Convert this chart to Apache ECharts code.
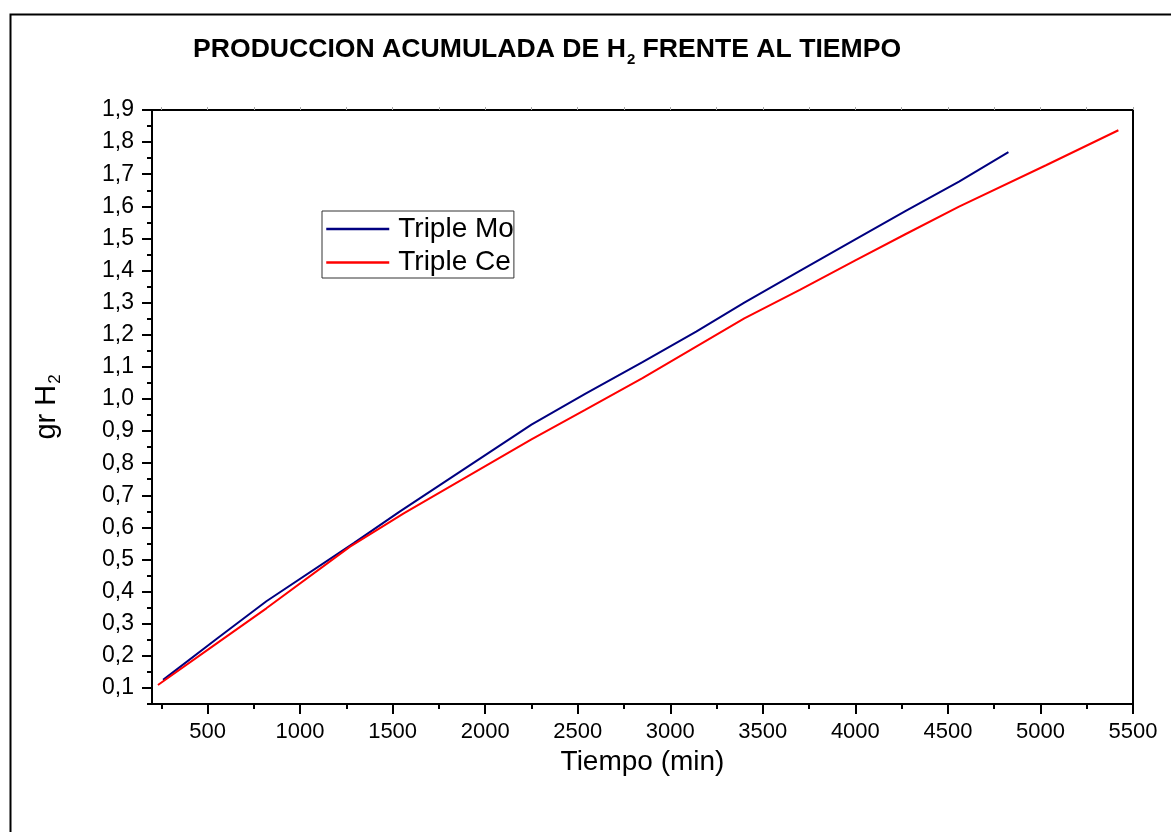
<!DOCTYPE html>
<html>
<head>
<meta charset="utf-8">
<script src="https://cdn.jsdelivr.net/npm/echarts@6/dist/echarts.min.js"></script>
<style>
html,body{margin:0;padding:0;background:#fff;}
#chart{width:1171px;height:832px;}
</style>
</head>
<body>
<div id="chart"></div>
<script>
// ---- data ----
var seriesNames = ['Triple Mo', 'Triple Ce'];
var moTime = [260, 550, 818, 1290, 1540, 2250, 2540, 2850, 3140, 3400, 3700, 4000, 4270, 4560, 4827];
var moH2   = [0.125, 0.253, 0.370, 0.551, 0.650, 0.920, 1.016, 1.115, 1.210, 1.300, 1.399, 1.497, 1.585, 1.677, 1.769];
var ceTime = [232, 550, 818, 1270, 1560, 2250, 2540, 2850, 3140, 3400, 3700, 4000, 4270, 4560, 5030, 5421];
var ceH2   = [0.109, 0.239, 0.348, 0.540, 0.644, 0.874, 0.966, 1.065, 1.163, 1.251, 1.340, 1.432, 1.513, 1.599, 1.728, 1.837];
var xMajorTicks = [500, 1000, 1500, 2000, 2500, 3000, 3500, 4000, 4500, 5000, 5500];
var xMinorTicks = [250, 750, 1250, 1750, 2250, 2750, 3250, 3750, 4250, 4750, 5250];
var yMajorTicks = [0.1, 0.2, 0.3, 0.4, 0.5, 0.6, 0.7, 0.8, 0.9, 1.0, 1.1, 1.2, 1.3, 1.4, 1.5, 1.6, 1.7, 1.8, 1.9];
var yMinorTicks = [0.05, 0.15, 0.25, 0.35, 0.45, 0.55, 0.65, 0.75, 0.85, 0.95, 1.05, 1.15, 1.25, 1.35, 1.45, 1.55, 1.65, 1.75, 1.85];
var titleParts = ['PRODUCCION ACUMULADA DE H', '2', ' FRENTE AL TIEMPO'];
var xName = 'Tiempo (min)';
var yNameParts = ['gr H', '2'];

function zip(a, b) { return a.map(function (v, i) { return [v, b[i]]; }); }

var FONT = '"Liberation Sans", Arial, sans-serif';
var X_MIN = 200, X_MAX = 5500, Y_MIN = 0.05, Y_MAX = 1.9;

var chart = echarts.init(document.getElementById('chart'), null, {renderer: 'canvas'});

var baseX = {type: 'value', min: X_MIN, max: X_MAX, gridIndex: 0, splitLine: {show: false}};
var baseY = {type: 'value', min: Y_MIN, max: Y_MAX, gridIndex: 0, splitLine: {show: false}};

var option = {
  backgroundColor: '#fff',
  animation: false,
  title: {
    left: 188, top: 27,
    text: '{b|' + titleParts[0] + '}{s|' + titleParts[1] + '}{b|' + titleParts[2] + '}',
    textStyle: {
      rich: {
        b: {fontFamily: FONT, fontSize: 26.6, fontWeight: 'bold', color: '#000'},
        s: {fontFamily: FONT, fontSize: 15, fontWeight: 'bold', color: '#000', padding: [20, 0, 0, 1]}
      }
    }
  },
  legend: {
    orient: 'vertical', left: 322, top: 211,
    padding: [4, 0, 1.5, 3],
    itemWidth: 63, itemHeight: 26, itemGap: 5.5,
    borderColor: '#333', borderWidth: 1, borderRadius: 0,
    itemStyle: {opacity: 0},
    lineStyle: {width: 2.5},
    textStyle: {fontFamily: FONT, fontSize: 28, lineHeight: 26, color: '#000', padding: [0, 0, 0, 4]},
    data: seriesNames
  },
  grid: {left: 152, top: 110, right: 38, bottom: 128, containLabel: false},
  xAxis: [
    Object.assign({}, baseX, {
      position: 'bottom',
      name: xName, nameLocation: 'middle', nameGap: 44, nameMoveOverlap: false,
      nameTextStyle: {fontFamily: FONT, fontSize: 28, color: '#000'},
      axisLine: {show: true, onZero: false, lineStyle: {color: '#000', width: 2}},
      axisTick: {show: true, inside: false, length: 10, customValues: xMajorTicks, lineStyle: {color: '#000', width: 2}},
      axisLabel: {show: true, margin: 17, customValues: xMajorTicks, fontFamily: FONT, fontSize: 22, color: '#000',
        formatter: function (v) { return String(v); }}
    }),
    Object.assign({}, baseX, {
      position: 'bottom',
      axisLine: {show: false, onZero: false},
      axisTick: {show: true, inside: false, length: 5, customValues: xMinorTicks, lineStyle: {color: '#000', width: 2}},
      axisLabel: {show: false}
    }),
    Object.assign({}, baseX, {
      position: 'top',
      axisLine: {show: true, onZero: false, lineStyle: {color: '#000', width: 2}},
      axisTick: {show: true, inside: false, length: 3, customValues: xMajorTicks.concat(xMinorTicks), lineStyle: {color: '#aaa', width: 1}},
      axisLabel: {show: false}
    })
  ],
  yAxis: [
    Object.assign({}, baseY, {
      position: 'left',
      name: '{a|' + yNameParts[0] + '}{s|' + yNameParts[1] + '}',
      nameLocation: 'middle', nameGap: 88, nameRotate: 90, nameMoveOverlap: false,
      nameTextStyle: {
        rich: {
          a: {fontFamily: FONT, fontSize: 29, color: '#000'},
          s: {fontFamily: FONT, fontSize: 17, color: '#000', padding: [18, 0, 0, 1]}
        }
      },
      axisLine: {show: true, onZero: false, lineStyle: {color: '#000', width: 2}},
      axisTick: {show: true, inside: false, length: 10, customValues: yMajorTicks, lineStyle: {color: '#000', width: 2}},
      axisLabel: {show: true, margin: 18, customValues: yMajorTicks, fontFamily: FONT, fontSize: 23, color: '#000',
        formatter: function (v) { return v.toFixed(1).replace('.', ','); }}
    }),
    Object.assign({}, baseY, {
      position: 'left',
      axisLine: {show: false, onZero: false},
      axisTick: {show: true, inside: false, length: 5, customValues: yMinorTicks, lineStyle: {color: '#000', width: 2}},
      axisLabel: {show: false}
    }),
    Object.assign({}, baseY, {
      position: 'right',
      axisLine: {show: true, onZero: false, lineStyle: {color: '#000', width: 2}},
      axisTick: {show: false},
      axisLabel: {show: false}
    })
  ],
  graphic: [{
    type: 'rect', left: 8, top: 12, z: 100, silent: true,
    shape: {x: 0, y: 0, width: 1200, height: 900},
    style: {fill: 'none', stroke: '#000', lineWidth: 2}
  }],
  series: [
    {
      name: seriesNames[0], type: 'line', xAxisIndex: 0, yAxisIndex: 0,
      data: zip(moTime, moH2), symbol: 'none', smooth: false,
      lineStyle: {color: '#000080', width: 2}, itemStyle: {color: '#000080'}
    },
    {
      name: seriesNames[1], type: 'line', xAxisIndex: 0, yAxisIndex: 0,
      data: zip(ceTime, ceH2), symbol: 'none', smooth: false,
      lineStyle: {color: '#ff0000', width: 2}, itemStyle: {color: '#ff0000'}
    }
  ]
};
chart.setOption(option);
</script>
</body>
</html>
